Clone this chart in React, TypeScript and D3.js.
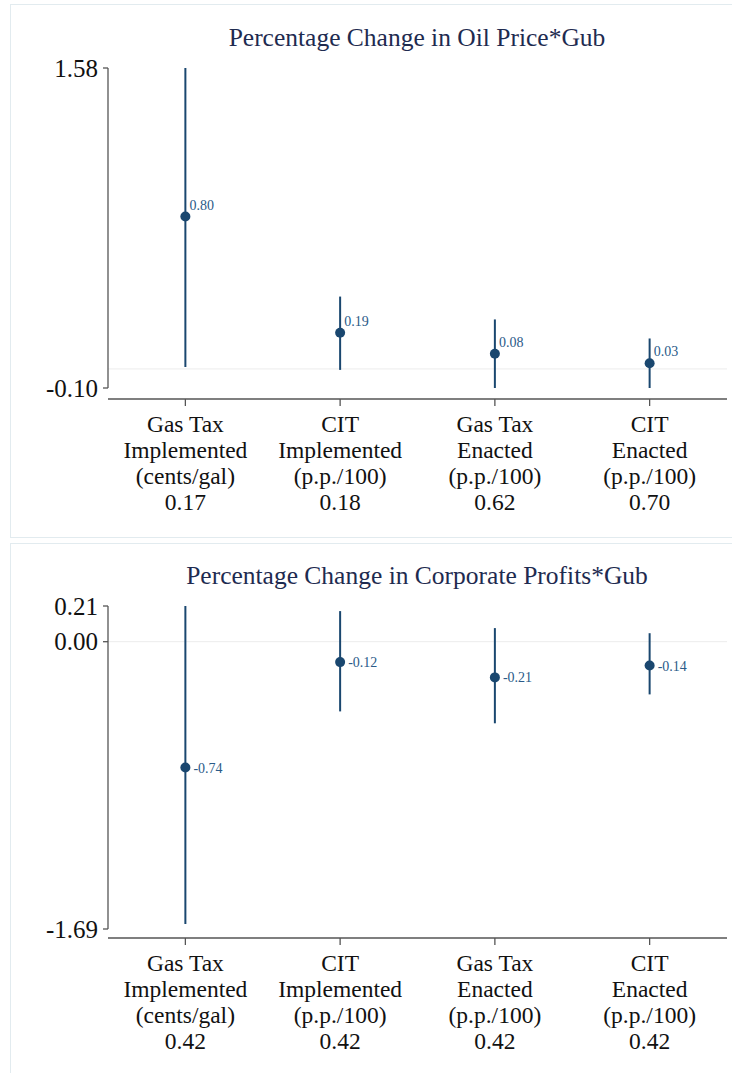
import * as d3 from "d3";

const categories = [
  ["Gas Tax", "Implemented", "(cents/gal)"],
  ["CIT", "Implemented", "(p.p./100)"],
  ["Gas Tax", "Enacted", "(p.p./100)"],
  ["CIT", "Enacted", "(p.p./100)"],
];

const oilCoef = [0.8, 0.19, 0.08, 0.03];
const oilLow = [0.01, -0.005, -0.1, -0.1];
const oilHigh = [1.58, 0.38, 0.26, 0.16];
const oilStats = ["0.17", "0.18", "0.62", "0.70"];
const oilTicks = [-0.1, 1.58];

const profitCoef = [-0.74, -0.12, -0.21, -0.14];
const profitLow = [-1.66, -0.41, -0.48, -0.31];
const profitHigh = [0.21, 0.18, 0.08, 0.05];
const profitStats = ["0.42", "0.42", "0.42", "0.42"];
const profitTicks = [-1.69, 0.0, 0.21];

const navy = "#1a476f";
const serif = "'Liberation Serif', 'Times New Roman', serif";
const fmt = (v: number) => d3.format(".2f")(v).replace("\u2212", "-");

type PanelProps = {
  title: string;
  coef: number[];
  low: number[];
  high: number[];
  stats: string[];
  ticks: number[];
  yTop: number;
  yBottom: number;
  axisY: number;
  labelAbove: boolean;
};

function Panel(p: PanelProps) {
  const x = d3.scalePoint<number>().domain(d3.range(categories.length)).range([108, 727]).padding(0.5);
  const dom = d3.extent(p.ticks) as [number, number];
  const y = d3.scaleLinear().domain(dom).range([p.yBottom, p.yTop]);

  return (
    <g>
      <text x={417} y={p.yTop - 22} textAnchor="middle" fontSize={25.5} fill="#1e2b50" fontFamily={serif}>
        {p.title}
      </text>
      {/* zero line */}
      <line x1={108} x2={727} y1={y(0)} y2={y(0)} stroke="#ececec" strokeWidth={1} />
      {/* y axis */}
      <line x1={108} x2={108} y1={y(dom[1])} y2={y(dom[0])} stroke="#555" strokeWidth={1.3} />
      {p.ticks.map((t) => (
        <g key={t}>
          <line x1={103} x2={108} y1={y(t)} y2={y(t)} stroke="#555" strokeWidth={1.3} />
          <text x={98} y={y(t)} dy="0.35em" textAnchor="end" fontSize={25} fontFamily={serif} fill="#111">
            {fmt(t)}
          </text>
        </g>
      ))}
      {/* x axis */}
      <line x1={108} x2={727} y1={p.axisY} y2={p.axisY} stroke="#555" strokeWidth={1.3} />
      {categories.map((c, i) => (
        <g key={i}>
          <line x1={x(i)} x2={x(i)} y1={p.axisY} y2={p.axisY + 7} stroke="#555" strokeWidth={1.3} />
          {[...c, p.stats[i]].map((s, j) => (
            <text key={j} x={x(i)} y={p.axisY + 33 + j * 26} textAnchor="middle" fontSize={23.5} fontFamily={serif} fill="#111">
              {s}
            </text>
          ))}
        </g>
      ))}
      {/* estimates */}
      {p.coef.map((v, i) => (
        <g key={i}>
          <line x1={x(i)} x2={x(i)} y1={y(p.high[i])} y2={y(p.low[i])} stroke={navy} strokeWidth={2} />
          <circle cx={x(i)} cy={y(v)} r={5} fill={navy} />
          <text
            x={(x(i) as number) + (p.labelAbove ? 4 : 8)}
            y={y(v) + (p.labelAbove ? -7 : 5)}
            fontSize={14}
            fontFamily={serif}
            fill="#2a5a88"
          >
            {fmt(v)}
          </text>
        </g>
      ))}
    </g>
  );
}

export default function App() {
  return (
    <svg width={732} height={1073} style={{ position: "absolute", left: 0, top: 0, background: "#fff" }}>
      <rect x={10.5} y={4.5} width={740} height={533} fill="#fff" stroke="#e2ebef" strokeWidth={1} />
      <rect x={10.5} y={543.5} width={740} height={540} fill="#fff" stroke="#e2ebef" strokeWidth={1} />
      <Panel
        title="Percentage Change in Oil Price*Gub"
        coef={oilCoef}
        low={oilLow}
        high={oilHigh}
        stats={oilStats}
        ticks={oilTicks}
        yTop={68}
        yBottom={388}
        axisY={399}
        labelAbove={true}
      />
      <Panel
        title="Percentage Change in Corporate Profits*Gub"
        coef={profitCoef}
        low={profitLow}
        high={profitHigh}
        stats={profitStats}
        ticks={profitTicks}
        yTop={606}
        yBottom={929}
        axisY={938}
        labelAbove={false}
      />
    </svg>
  );
}
